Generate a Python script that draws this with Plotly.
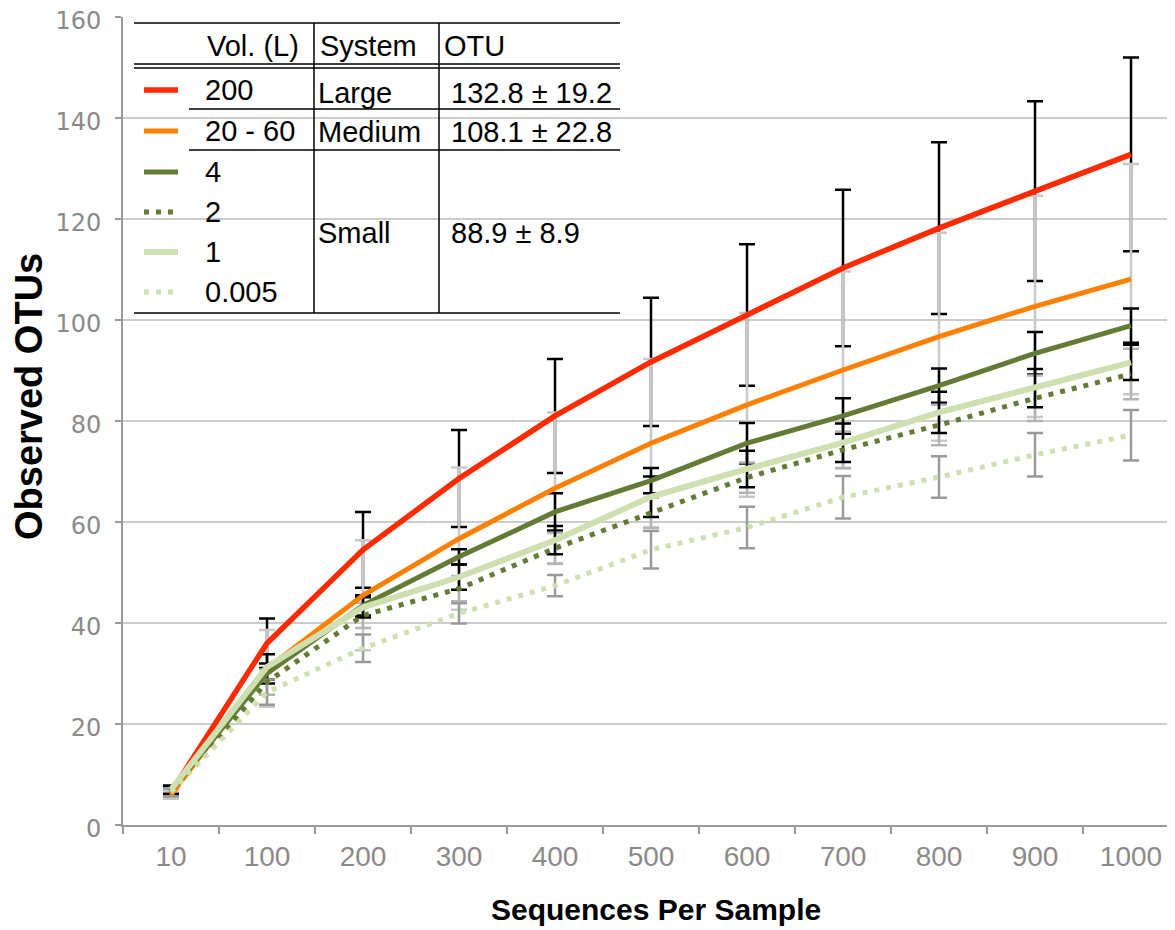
import plotly.graph_objects as go

# ---------------- data ----------------
categories = ["10", "100", "200", "300", "400", "500", "600", "700", "800", "900", "1000"]

vol_labels = ["200", "20 - 60", "4", "2", "1", "0.005"]

otu_200 = [6.5, 36.0, 54.5, 68.6, 81.0, 91.7, 101.0, 110.3, 118.2, 125.5, 132.8]
err_200 = [0.8, 4.9, 7.5, 9.6, 11.3, 12.7, 14.0, 15.5, 17.0, 17.8, 19.2]

otu_20_60 = [6.0, 31.0, 45.5, 56.7, 66.7, 75.6, 83.2, 90.1, 96.7, 102.7, 108.1]
err_20_60 = [0.8, 7.6, 10.9, 14.1, 15.0, 16.7, 18.2, 19.5, 20.6, 21.9, 22.8]

otu_4 = [6.8, 30.0, 43.5, 53.1, 62.0, 68.2, 75.6, 81.0, 87.0, 93.4, 98.9]
err_4 = [0.8, 2.0, 2.0, 1.5, 3.7, 2.5, 4.0, 3.5, 3.4, 4.2, 3.4]

otu_2 = [6.5, 28.3, 41.5, 46.8, 54.8, 61.8, 68.8, 74.3, 79.2, 84.5, 89.3]
err_2 = [0.8, 2.5, 2.5, 2.5, 3.0, 3.0, 3.0, 3.6, 4.0, 4.5, 5.0]

otu_1 = [7.0, 31.3, 43.1, 49.1, 56.4, 65.0, 70.5, 75.7, 81.7, 86.5, 91.6]
err_1 = [0.8, 2.5, 2.0, 2.5, 2.8, 4.0, 3.6, 3.8, 4.1, 3.8, 3.5]

otu_0005 = [6.5, 26.3, 35.0, 41.9, 47.4, 54.5, 58.9, 64.9, 68.9, 73.3, 77.2]
err_0005 = [0.8, 2.5, 2.7, 2.0, 2.1, 3.7, 4.1, 4.2, 4.1, 4.3, 5.0]

system_labels = ["Large", "Medium", "Small"]
otu_summary = ["132.8 ± 19.2", "108.1 ± 22.8", "88.9 ± 8.9"]
header_labels = ["Vol. (L)", "System", "OTU"]

# ---------------- styles ----------------
series = [
    # values, errors, line colour, dash, width, error colour
    (otu_200, err_200, "#ff2a00", "solid", 5.5, "#000000"),
    (otu_20_60, err_20_60, "#ff7f00", "solid", 5, "#c8c8c8"),
    (otu_4, err_4, "#627b35", "solid", 5, "#000000"),
    (otu_2, err_2, "#627b35", "5px,7px", 5, "#b4b4b4"),
    (otu_1, err_1, "#cfe0b0", "solid", 6, "#000000"),
    (otu_0005, err_0005, "#cfe0b0", "5px,7px", 5, "#9a9a9a"),
]

fig = go.Figure()

# error bars first (lines drawn on top of them)
for (vals, errs, col, dash, w, ecol), name in zip(series, vol_labels):
    fig.add_trace(go.Scatter(
        x=categories, y=vals, mode="markers",
        marker=dict(size=1, color="rgba(0,0,0,0)"),
        error_y=dict(type="data", array=errs, visible=True,
                     color=ecol, thickness=2.5, width=8),
        showlegend=False, hoverinfo="skip",
    ))

for (vals, errs, col, dash, w, ecol), name in zip(series, vol_labels):
    fig.add_trace(go.Scatter(
        x=categories, y=vals, mode="lines", name=name,
        line=dict(color=col, width=w, dash=dash),
        showlegend=False,
    ))

# ---------------- layout ----------------
OFF = 8  # page body margin
W, H = 1175 - OFF, 930 - OFF
L, R, T, B = 123 - OFF, 0, 17 - OFF, 105
pw, ph = W - L - R, H - T - B


def xp(px):
    return (px - OFF - L) / pw


def yp(py):
    return (H - B - (py - OFF)) / ph


tick_font_y = dict(family="DejaVu Sans", size=24, color="#8a8a8a")
tick_font_x = dict(family="Liberation Sans, Arial", size=28, color="#8a8a8a")

fig.update_layout(
    width=W, height=H,
    margin=dict(l=L, r=R, t=T, b=B, autoexpand=False),
    plot_bgcolor="white", paper_bgcolor="white",
    showlegend=False,
    xaxis=dict(
        type="category", categoryorder="array", categoryarray=categories,
        range=[-0.5, -0.5 + pw / 96.0],
        tickson="boundaries", ticks="outside", ticklen=7, tickwidth=2, tickcolor="#9a9a9a",
        showline=True, linecolor="#9a9a9a", linewidth=2,
        showgrid=False, zeroline=False, automargin=False,
        tickfont=tick_font_x, ticklabelstandoff=5,
    ),
    yaxis=dict(
        range=[0, 160], dtick=20, tick0=0,
        ticks="outside", ticklen=6, tickwidth=2, tickcolor="#9a9a9a",
        showline=True, linecolor="#9a9a9a", linewidth=2,
        showgrid=True, gridcolor="#cccccc", gridwidth=2,
        zeroline=False, automargin=False,
        tickfont=tick_font_y, ticklabelstandoff=9, ticklabelshift=4,
        ticklabeloverflow="allow",
    ),
)

annotations = []
# axis titles
annotations.append(dict(text="<b>Sequences Per Sample</b>", xref="paper", yref="paper",
                        x=xp(656), y=yp(909), xanchor="center", yanchor="middle",
                        showarrow=False,
                        font=dict(family="Liberation Sans, Arial", size=30, color="black")))
annotations.append(dict(text="<b>Observed OTUs</b>", xref="paper", yref="paper",
                        x=xp(29), y=yp(397), xanchor="center", yanchor="middle",
                        textangle=-90, showarrow=False,
                        font=dict(family="Liberation Sans, Arial", size=38, color="black")))

# ---------------- legend table ----------------
shapes = []
shapes.append(dict(type="rect", xref="paper", yref="paper",
                   x0=xp(134), x1=xp(620), y0=yp(313), y1=yp(23),
                   fillcolor="white", line=dict(width=0), layer="between"))


def hline(y, x0, x1):
    shapes.append(dict(type="line", xref="paper", yref="paper",
                       x0=xp(x0), x1=xp(x1), y0=yp(y), y1=yp(y),
                       line=dict(color="black", width=1.5), layer="above"))


def vline(x, y0, y1):
    shapes.append(dict(type="line", xref="paper", yref="paper",
                       x0=xp(x), x1=xp(x), y0=yp(y0), y1=yp(y1),
                       line=dict(color="black", width=1.5), layer="above"))


hline(23, 134, 620)
hline(64, 134, 620)
hline(68, 134, 620)
hline(109, 189, 620)
hline(150, 189, 620)
hline(313, 134, 620)
vline(314, 23, 313)
vline(439, 23, 313)

table_font = dict(family="Liberation Sans, Arial", size=29, color="black")
header_x = [205, 318, 442]
for hx, ht in zip(header_x, header_labels):
    annotations.append(dict(text=ht, xref="paper", yref="paper", x=xp(hx), y=yp(46),
                            xanchor="left", yanchor="middle", showarrow=False, font=table_font))

row_y = [90, 131, 172, 212, 252, 292]
for (vals, errs, col, dash, w, ecol), ry, lab in zip(series, row_y, vol_labels):
    shapes.append(dict(type="line", xref="paper", yref="paper",
                       x0=xp(144), x1=xp(178), y0=yp(ry), y1=yp(ry),
                       line=dict(color=col, width=w, dash=dash), layer="above"))
    annotations.append(dict(text=lab, xref="paper", yref="paper", x=xp(203), y=yp(ry),
                            xanchor="left", yanchor="middle", showarrow=False, font=table_font))

sys_y = [93, 132, 233]
for sy, st, ot in zip(sys_y, system_labels, otu_summary):
    annotations.append(dict(text=st, xref="paper", yref="paper", x=xp(316), y=yp(sy),
                            xanchor="left", yanchor="middle", showarrow=False, font=table_font))
    annotations.append(dict(text=ot, xref="paper", yref="paper", x=xp(449), y=yp(sy),
                            xanchor="left", yanchor="middle", showarrow=False, font=table_font))

fig.update_layout(shapes=shapes, annotations=annotations)

fig.write_html("out.html")
